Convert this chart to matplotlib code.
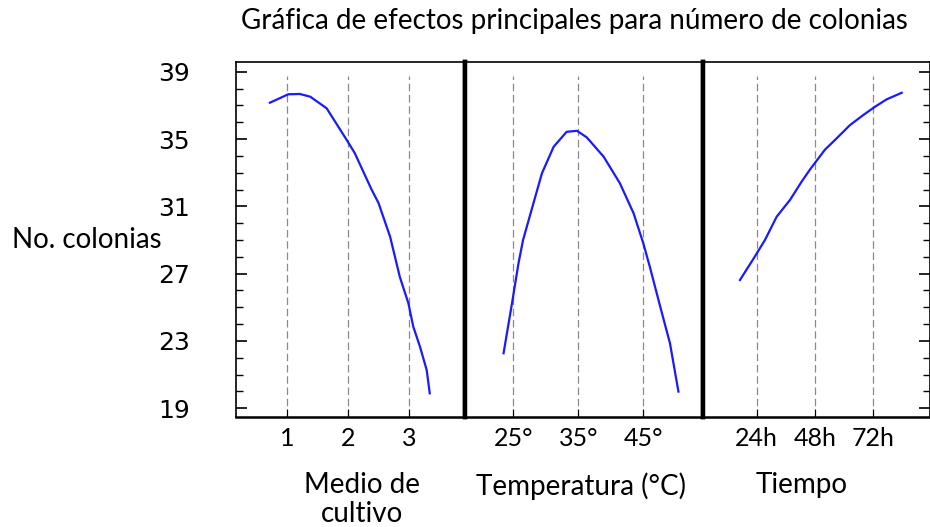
import matplotlib.pyplot as plt
from matplotlib.ticker import MultipleLocator

# ── Data ─────────────────────────────────────────────────────
medio_x = [0.72, 1.02, 1.21, 1.38, 1.65, 1.98, 2.11, 2.39, 2.50, 2.69, 2.85, 2.99, 3.07, 3.18, 3.29, 3.34]
medio_y = [37.16, 37.66, 37.68, 37.52, 36.83, 34.94, 34.17, 31.97, 31.20, 29.20, 26.80, 25.24, 23.85, 22.66, 21.27, 19.89]

temp_x = [23.5, 24.8, 25.8, 26.5, 27.8, 29.4, 31.2, 33.2, 34.8, 36.3, 38.9, 41.4, 43.5, 45.0, 46.0, 47.6, 49.1, 50.4]
temp_y = [22.27, 25.24, 27.62, 29.00, 30.78, 32.96, 34.54, 35.43, 35.49, 35.10, 33.95, 32.37, 30.59, 28.80, 27.41, 25.04, 22.86, 19.99]

tiempo_x = [17.1, 22.6, 27.4, 32.2, 37.7, 42.5, 45.9, 52.1, 56.9, 62.4, 67.9, 72.7, 77.5, 83.7]
tiempo_y = [26.62, 27.87, 29.00, 30.38, 31.38, 32.47, 33.18, 34.37, 35.04, 35.83, 36.43, 36.92, 37.36, 37.75]

medio_ticks = [1, 2, 3]
medio_labels = ["1", "2", "3"]
temp_ticks = [25, 35, 45]
temp_labels = ["25°", "35°", "45°"]
tiempo_ticks = [24, 48, 72]
tiempo_labels = ["24h", "48h", "72h"]

y_ticks = [19, 23, 27, 31, 35, 39]

# ── Layout in pixels ─────────────────────────────────────────
W, H = 930, 527
TOP, BOTTOM = 62, 417
LINE = "#1a1aff"
LABEL_FONT = ["Lato", "DejaVu Sans"]

fig = plt.figure(figsize=(W / 100, H / 100), dpi=100)


def panel(x0, x1):
    return fig.add_axes([x0 / W, 1 - BOTTOM / H, (x1 - x0) / W, (BOTTOM - TOP) / H])


ax1 = panel(236, 465)
ax2 = panel(465, 703)
ax3 = panel(703, 930)

# (axes, x, y, ticks, labels, xlim, xlabel, label centre as axes fraction)
panels = [
    (ax1, medio_x, medio_y, medio_ticks, medio_labels, (0.164, 3.918), "Medio de\ncultivo", 0.55),
    (ax2, temp_x, temp_y, temp_ticks, temp_labels, (17.57, 54.18), "Temperatura (°C)", 0.489),
    (ax3, tiempo_x, tiempo_y, tiempo_ticks, tiempo_labels, (1.89, 95.35), "Tiempo", 0.435),
]

for ax, xs, ys, ticks, labels, xlim, xlabel, lx in panels:
    for t in ticks:
        ax.axvline(t, ymin=0, ymax=0.96, color="#8a8a8a", lw=0.9, ls=(0, (6, 3)), zorder=1)
    ax.plot(xs, ys, color=LINE, lw=1.6, zorder=3)
    ax.set_xlim(*xlim)
    ax.set_ylim(18.48, 39.58)
    ax.set_xticks(ticks)
    ax.set_xticklabels(labels, fontsize=18, family=LABEL_FONT)
    ax.tick_params(axis="x", direction="in", length=6, width=0.8, pad=7)
    ax.set_xlabel(xlabel, fontsize=20, family=LABEL_FONT, linespacing=1.12)
    ax.xaxis.set_label_coords(lx, -0.155)
    ax.set_yticks([])
    for s in ax.spines.values():
        s.set_linewidth(1.2)
    ax.spines["bottom"].set_linewidth(1.8)

# left axis with the value scale
ax1.set_yticks(y_ticks)
ax1.yaxis.set_minor_locator(MultipleLocator(1))
ax1.tick_params(axis="y", which="major", direction="in", length=8, width=1.2, pad=33)
ax1.tick_params(axis="y", which="minor", direction="in", length=5, width=1.0)
for lbl in ax1.get_yticklabels():
    lbl.set_family(["Liberation Sans Narrow", "DejaVu Sans"])
    lbl.set_fontsize(18)

# right-hand ticks, no labels
ax3.yaxis.tick_right()
ax3.set_yticks(y_ticks)
ax3.yaxis.set_minor_locator(MultipleLocator(1))
ax3.tick_params(axis="y", which="major", direction="in", length=8, width=1.2, labelright=False)
ax3.tick_params(axis="y", which="minor", direction="in", length=5, width=1.0)

# heavy separators between the panels
ax1.spines["right"].set_linewidth(3.2)
ax2.spines["left"].set_linewidth(3.2)
ax2.spines["right"].set_linewidth(3.2)
ax3.spines["left"].set_linewidth(3.2)

fig.text(12 / W, 1 - 248 / H, "No. colonias", fontsize=20, family=LABEL_FONT, va="baseline", ha="left")
fig.text(574 / W, 1 - 29.5 / H, "Gráfica de efectos principales para número de colonias",
         fontsize=20, family=LABEL_FONT, va="baseline", ha="center")

fig.savefig("out.png", dpi=100)
